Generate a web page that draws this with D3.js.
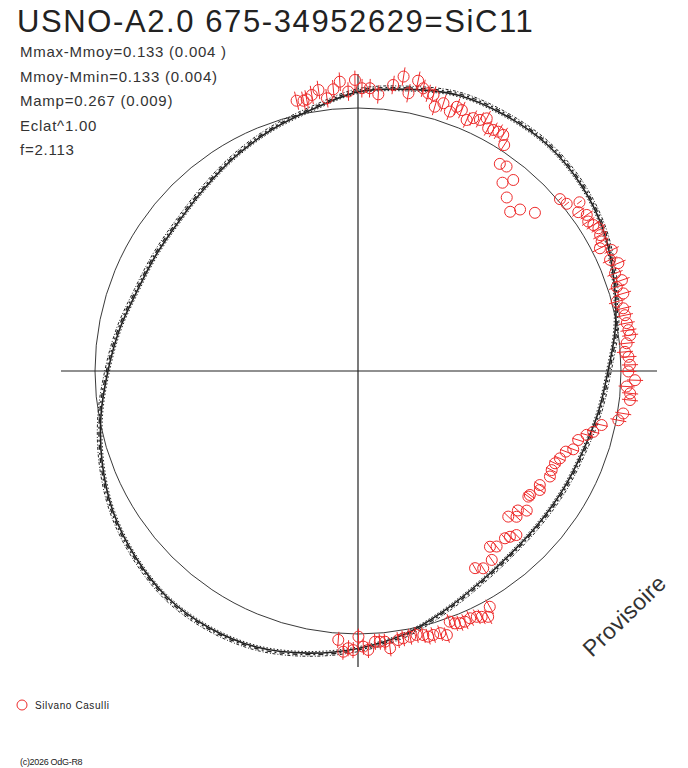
<!DOCTYPE html>
<html>
<head>
<meta charset="utf-8">
<script src="https://cdn.jsdelivr.net/npm/d3@7"></script>
<style>
  body { margin: 0; background: #fff; }
  svg text { font-family: "Liberation Sans", Arial, sans-serif; fill: #222; }
</style>
</head>
<body>
<div id="chart"></div>
<script>
// header texts
const title = 'USNO-A2.0 675-34952629=SiC11';
const statLines = [
    'Mmax-Mmoy=0.133 (0.004 )',
    'Mmoy-Mmin=0.133 (0.004)',
    'Mamp=0.267 (0.009)',
    'Eclat^1.00',
    'f=2.113'
];
const observer = 'Silvano Casulli';
const stamp = 'Provisoire';
const copyright = '(c)2026 OdG-R8';

// amplitude (mag) used for the radial scale
const magAbove = 0.133;
const magBelow = 0.133;

// fitted light curve: phase (deg) / delta mag
const modelPhase = [0, 10, 20, 30, 40, 50, 60, 70, 80, 90, 100, 110, 120, 130, 140, 150, 160, 170,
    180, 190, 200, 210, 220, 230, 240, 250, 260, 270, 280, 290, 300, 310, 320, 330, 340, 350];
const modelMag = [0.066, 0.094, 0.125, 0.131, 0.131, 0.113, 0.082, 0.037, -0.006, -0.053, -0.079, -0.100,
    -0.107, -0.109, -0.102, -0.078, -0.035, 0.018, 0.059, 0.096, 0.127, 0.138, 0.135, 0.111,
    0.080, 0.037, -0.008, -0.053, -0.086, -0.115, -0.123, -0.121, -0.100, -0.066, -0.029, 0.010];

// observations: phase (deg), delta mag, error (mag)
const obsPhase = [347.2, 348.6, 349.3, 350.5, 352.0, 353.5, 355.0, 356.4, 358.0, 359.4,
    0.8, 2.4, 4.2, 7.0, 8.8, 10.3, 11.7, 13.0, 14.2, 15.3, 16.2, 17.7, 19.5, 20.5, 21.7,
    23.4, 24.5, 25.9, 27.0, 28.2, 29.3, 30.4, 31.6, 32.9,
    34.4, 36.0, 37.5, 39.1, 40.6, 43.7, 45.1, 48.2,
    49.6, 51.3, 52.7, 54.2, 55.7, 57.0, 58.2, 59.3, 60.7, 62.0, 63.1, 64.5, 66.2, 67.5,
    69.2, 71.0, 72.0, 73.7, 75.0, 76.7, 78.2, 79.9, 81.4, 82.5, 84.1, 85.9, 87.0, 88.7,
    90.1, 91.9, 93.3, 94.7, 96.1, 99.1, 100.7,
    102.5, 104.5, 105.6, 107.4, 110.0, 111.2, 113.4, 115.1, 117.1, 118.8, 122.1, 123.2,
    125.8, 126.4, 131.1, 129.6, 132.6, 134.1, 136.0, 137.5, 138.7, 141.7, 143.1, 144.7,
    147.6, 149.3,
    150.8, 152.1, 153.3, 154.2, 155.6, 156.9, 158.0, 159.0, 159.9, 161.4, 162.6, 164.1,
    165.2, 166.1, 167.5, 168.9, 170.4, 171.5, 173.4, 174.3, 175.4, 176.4, 177.9, 178.9,
    179.9, 181.0, 182.0, 183.0, 184.2];
const obsMag = [0.058, 0.052, 0.055, 0.069, 0.085, 0.047, 0.081, 0.110, 0.068, 0.115,
    0.081, 0.082, 0.059, 0.103, 0.143, 0.079, 0.137, 0.111, 0.096, 0.095, 0.050, 0.074, 0.050, 0.078, 0.073,
    0.043, 0.061, 0.066, 0.084, 0.051, 0.055, 0.059, 0.058, 0.025,
    -0.049, -0.042, -0.105, -0.069, -0.141, -0.175, -0.140, -0.105,
    0.009, 0.018, 0.063, 0.035, 0.057, 0.047, 0.057, 0.068, 0.060, 0.053, 0.034, 0.074, 0.051, 0.077,
    0.049, 0.066, 0.037, 0.055, 0.020, 0.039, 0.040, 0.041, 0.043, 0.047, 0.029, 0.019, 0.032, 0.037,
    0.030, 0.058, 0.025, 0.041, 0.043, 0.023, 0.008,
    -0.055, -0.082, -0.105, -0.132, -0.139, -0.164, -0.176, -0.186, -0.186, -0.180, -0.198, -0.187,
    -0.209, -0.210, -0.208, -0.180, -0.195, -0.220, -0.143, -0.156, -0.165, -0.161, -0.177, -0.129,
    -0.120, -0.138,
    0.029, 0.062, 0.050, 0.041, 0.035, 0.039, 0.037, 0.030, 0.016, 0.064, 0.048, 0.047,
    0.048, 0.037, 0.030, 0.032, 0.033, 0.037, 0.066, 0.037, 0.035, 0.034, 0.066, 0.052,
    0.011, 0.066, 0.059, 0.074, 0.027];
const obsErr = [0.038, 0.038, 0.038, 0.038, 0.038, 0.038, 0.038, 0.038, 0.038, 0.038,
    0.038, 0.038, 0.038, 0.038, 0.038, 0.038, 0.038, 0.036, 0.036, 0.036, 0.036, 0.036, 0.036, 0.036, 0.036,
    0.034, 0.034, 0.034, 0.034, 0.034, 0.034, 0.034, 0.034, 0.030,
    0, 0, 0, 0, 0, 0, 0, 0,
    0.012, 0.012, 0.012, 0.030, 0.030, 0.030, 0.032, 0.032, 0.032, 0.032, 0.032, 0.032, 0.032, 0.032,
    0.033, 0.033, 0.033, 0.033, 0.033, 0.033, 0.033, 0.033, 0.033, 0.033, 0.033, 0.033, 0.033, 0.033,
    0.033, 0.033, 0.033, 0.033, 0.033, 0.033, 0.033,
    0.026, 0.026, 0.026, 0.025, 0.025, 0.025, 0.025, 0.025, 0.025, 0.025, 0.025, 0.025,
    0.025, 0.025, 0.025, 0.025, 0.025, 0.025, 0.025, 0.025, 0.025, 0.025, 0.025, 0.025,
    0.025, 0.025,
    0.033, 0.033, 0.033, 0.033, 0.033, 0.033, 0.033, 0.033, 0.033, 0.033, 0.033, 0.033,
    0.033, 0.033, 0.033, 0.033, 0.033, 0.033, 0.033, 0.033, 0.033, 0.033, 0.033, 0.033,
    0.033, 0.033, 0.033, 0.033, 0.033];

const width = 688;
const height = 768;
const cx = 358;
const cy = 371;
const rMean = 263;
const rAmp = 32.5;
const axisLen = 297;
const red = '#ee2b2b';
const ink = '#222';

let svg = d3.select('#chart').append('svg')
    .attr('width', width)
    .attr('height', height);

let angle = d3.scaleLinear().domain([0, 360]).range([0, 2 * Math.PI]);
let radius = d3.scaleLinear()
    .domain([-magBelow, magAbove])
    .range([rMean - rAmp, rMean + rAmp]);

function polar(deg, r) {
    let a = angle(deg);
    return [r * Math.sin(a), -r * Math.cos(a)];
}

// header
svg.append('text')
    .attr('x', 17).attr('y', 32)
    .style('font-size', '31px')
    .style('letter-spacing', '1.6px')
    .text(title);

svg.selectAll('text.stat')
    .data(statLines)
    .enter().append('text')
    .classed('stat', true)
    .attr('x', 20)
    .attr('y', (d, i) => 57 + i * 24.6)
    .style('font-size', '15px')
    .style('letter-spacing', '0.75px')
    .style('fill', '#333')
    .text(d => d);

let plot = svg.append('g')
    .attr('transform', `translate(${cx}, ${cy})`);

// axes
plot.append('line')
    .attr('x1', -axisLen).attr('x2', axisLen + 2)
    .attr('y1', 0).attr('y2', 0)
    .attr('stroke', ink).attr('stroke-width', 1.2);
plot.append('line')
    .attr('x1', 0).attr('x2', 0)
    .attr('y1', -axisLen).attr('y2', axisLen - 1)
    .attr('stroke', ink).attr('stroke-width', 1.2);

// mean level
plot.append('circle')
    .attr('r', radius(0))
    .attr('fill', 'none')
    .attr('stroke', ink)
    .attr('stroke-width', 0.9);

// model, drawn as a few overlapping strands
let model = modelPhase.map((p, i) => ({p: p, m: modelMag[i]}));
let strands = [
    {off: 0, w: 1.6, dash: null},
    {off: 3.2, w: 1.0, dash: '3 1.5 1 2'},
    {off: -1.6, w: 1.0, dash: '1.5 2'},
    {off: 1.5, w: 1.4, dash: '5 3 2 3'}
];
strands.forEach(s => {
    let line = d3.lineRadial()
        .angle(d => angle(d.p))
        .radius(d => radius(d.m) + s.off)
        .curve(d3.curveCardinalClosed);
    plot.append('path')
        .attr('d', line(model))
        .attr('fill', 'none')
        .attr('stroke', ink)
        .attr('stroke-width', s.w)
        .attr('stroke-dasharray', s.dash);
});

// observations
let obs = obsPhase.map((p, i) => ({p: p, m: obsMag[i], e: obsErr[i]}));
let pts = plot.append('g').selectAll('g')
    .data(obs)
    .enter().append('g');

pts.filter(d => d.e > 0).append('line')
    .attr('x1', d => polar(d.p, radius(d.m - d.e))[0])
    .attr('y1', d => polar(d.p, radius(d.m - d.e))[1])
    .attr('x2', d => polar(d.p, radius(d.m + d.e))[0])
    .attr('y2', d => polar(d.p, radius(d.m + d.e))[1])
    .attr('stroke', red)
    .attr('stroke-width', 1);

pts.append('circle')
    .attr('cx', d => polar(d.p, radius(d.m))[0])
    .attr('cy', d => polar(d.p, radius(d.m))[1])
    .attr('r', 5.5)
    .attr('fill', 'none')
    .attr('stroke', red)
    .attr('stroke-width', 1);

// stamp
svg.append('text')
    .attr('transform', 'translate(592, 658) rotate(-44)')
    .style('font-size', '23px')
    .style('letter-spacing', '0.3px')
    .style('fill', '#333')
    .text(stamp);

// legend
svg.append('circle')
    .attr('cx', 22).attr('cy', 705)
    .attr('r', 5)
    .attr('fill', 'none')
    .attr('stroke', red)
    .attr('stroke-width', 1);
svg.append('text')
    .attr('x', 35).attr('y', 709)
    .style('font-size', '10px')
    .style('letter-spacing', '0.6px')
    .text(observer);

svg.append('text')
    .attr('x', 20).attr('y', 765)
    .style('font-size', '9px')
    .style('letter-spacing', '-0.3px')
    .text(copyright);
</script>
</body>
</html>
